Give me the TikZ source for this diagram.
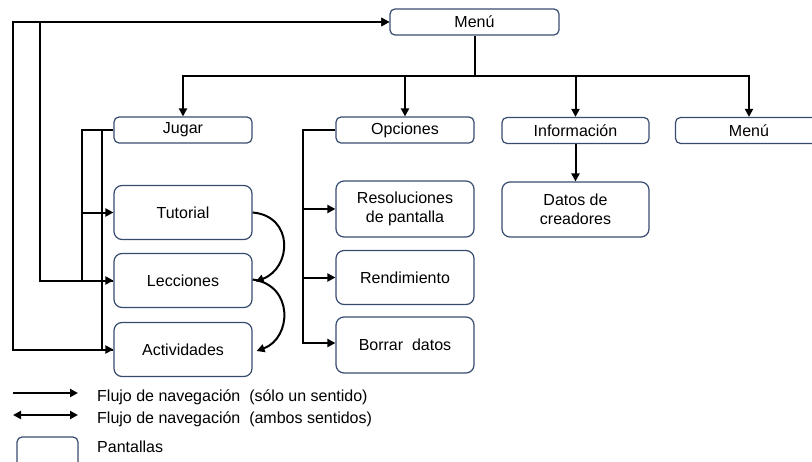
\documentclass[tikz,border=0pt]{standalone}
\usepackage{fontspec}
\setmainfont{Liberation Sans}
\usetikzlibrary{arrows.meta}
\definecolor{boxline}{RGB}{55,75,110}
\begin{document}
\begin{tikzpicture}[x=1pt,y=-1pt,
  screen/.style={draw=boxline, line width=1.2pt, rounded corners=5pt, inner sep=0pt,
    align=center, font=\fontsize{16}{19.5}\selectfont},
  small/.style={screen, minimum width=138pt, minimum height=26pt},
  big/.style={screen, minimum width=138pt, minimum height=54pt, rounded corners=8pt},
  tip/.style={Triangle[length=8pt,width=8pt]},
  link/.style={line width=2pt},
  flow/.style={line width=2pt, -{Triangle[length=8pt,width=8pt]}},
  legtext/.style={anchor=base west, inner sep=0pt, font=\fontsize{16}{19}\selectfont},
]
\useasboundingbox (0,0) rectangle (812,461);

% screens
\node[screen, minimum width=169pt, minimum height=26pt] (menu) at (474.5,22) {Menú};

\node[small] (jugar)    at (183,130)   {Jugar};
\node[small] (opciones) at (405,130)   {Opciones};
\node[small, minimum width=147pt] (info)  at (575.5,130.5) {Información};
\node[small, minimum width=147pt] (menu2) at (749,130.5)   {Menú};

\node[big] (tutorial)    at (183,212.5) {Tutorial};
\node[big] (lecciones)   at (183,280.5) {Lecciones};
\node[big] (actividades) at (183,349.5) {Actividades};

\node[big, minimum height=56pt] (resol)  at (405,209) {Resoluciones\\de pantalla};
\node[big] (rend)   at (405,277.5) {Rendimiento};
\node[big, minimum height=56pt] (borrar) at (405,345) {Borrar\ \ datos};

\node[big, minimum width=147pt, minimum height=55pt] (datos) at (575.5,209.5) {Datos de\\creadores};

% main menu branches
\coordinate (hub) at (474.5,76);
\draw[link] (menu) -- (hub);
\draw[flow] (hub) -| (jugar.north);
\draw[flow] (hub) -| (opciones.north);
\draw[flow] (hub) -| (info.north);
\draw[flow] (hub) -| (menu2.north);

% Jugar
\draw[flow] (jugar.west) -- ++(-31,0) |- (tutorial.west);
\draw[flow] (jugar.west) -- ++(-31,0) |- (lecciones.west);
\draw[flow] (jugar.west) -- ++(-11,0) |- (actividades.west);

% back to the main menu
\draw[flow] (lecciones.west) -- (40,280.5) |- (menu.west);
\draw[flow] (actividades.west) -- (13,349.5) |- (menu.west);

% Opciones
\draw[flow] (opciones.west) -- ++(-32,0) |- (resol.west);
\draw[flow] (opciones.west) -- ++(-32,0) |- (rend.west);
\draw[flow] (opciones.west) -- ++(-32,0) |- ([yshift=2pt]borrar.west);

% Información
\draw[flow] (info) -- (datos);

% lesson sequence
\draw[flow] (tutorial.east) .. controls (294,216) and (292,268) .. ([xshift=3pt,yshift=-1pt]lecciones.east);
\draw[flow] ([yshift=1pt]lecciones.east) .. controls (294,285) and (292,338) .. ([xshift=4pt,yshift=-1.5pt]actividades.east);

% legend
\coordinate (oa) at (13,393);
\coordinate (ob) at (78,393);
\draw[flow] (oa) -- (ob);
\node[legtext] (ltone) at (97,401) {Flujo de navegación\ \ (sólo un sentido)};

\coordinate (ba) at (13,415);
\coordinate (bb) at (78,415);
\draw[link, {Triangle[length=8pt,width=8pt]}-{Triangle[length=8pt,width=8pt]}] (ba) -- (bb);
\node[legtext] (lttwo) at (97,423) {Flujo de navegación\ \ (ambos sentidos)};

\draw[draw=boxline, line width=1.2pt, rounded corners=5pt] (17,470) -- (17,437) -- (78,437) -- (78,470);
\node[legtext] (ltbox) at (97,452) {Pantallas};
\end{tikzpicture}
\end{document}
